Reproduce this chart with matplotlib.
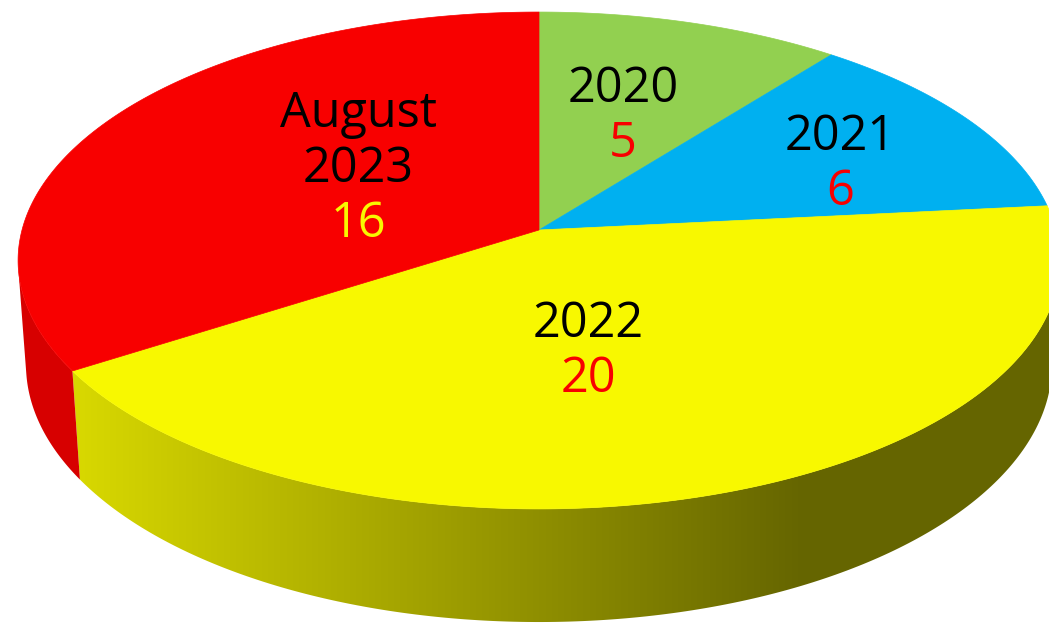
import numpy as np
import matplotlib
matplotlib.use('Agg')
import matplotlib.pyplot as plt
from matplotlib.patches import Polygon
from matplotlib.colors import to_rgb

labels = ['2020', '2021', '2022', 'August\n2023']
values = [5, 6, 20, 16]
face_colors = ['#92d050', '#00b0f0', '#f8f800', '#f80000']
value_colors = ['#f80000', '#f80000', '#f80000', '#f8f800']
# where each label block sits (x centre, baseline of the value line), pixels
label_xy = [(623, 157), (840, 205), (588, 392), (358, 237)]

W, H = 1049, 623
CX, CY = 539, 230          # apex of the pie on screen
FOCAL = 3712.0
DIST = 7.18
ELEV = np.radians(28.25)
DEPTH = 0.231              # thickness of the disc (radius = 1)


def project(theta, z=0.0, r=1.0):
    u = r * np.sin(theta)
    v = r * np.cos(theta)
    se, ce = np.sin(ELEV), np.cos(ELEV)
    den = DIST + v * ce - z * se
    return CX + FOCAL * u / den, CY - FOCAL * (v * se + z * ce) / den


def shade(x):
    return np.clip(0.87 - (x - 80) / 720 * 0.46, 0.41, 0.87)


fig = plt.figure(figsize=(W / 100, H / 100), dpi=100)
ax = fig.add_axes([0, 0, 1, 1])

total = sum(values)
bounds = 2 * np.pi * np.concatenate([[0], np.cumsum(values)]) / total

# front wall is visible between the two silhouette lines
k = 1.0 / (DIST * np.cos(ELEV))
vis0, vis1 = np.arccos(-k), 2 * np.pi - np.arccos(-k)

xs_img = np.arange(W) + 0.5
for i in range(len(values)):
    t0, t1 = max(bounds[i], vis0), min(bounds[i + 1], vis1)
    if t1 <= t0:
        continue
    t = np.linspace(t0, t1, 200)
    tx, ty = project(t)
    bx, by = project(t[::-1], z=-DEPTH)
    poly = Polygon(np.column_stack([np.r_[tx, bx], np.r_[ty, by]]),
                   closed=True, transform=ax.transData)
    base = np.array(to_rgb(face_colors[i]))
    img = base[None, None, :] * shade(xs_img)[None, :, None]
    im = ax.imshow(img, extent=(0, W, H, 0), aspect='auto',
                   interpolation='bilinear', zorder=1)
    im.set_clip_path(poly)

for i in range(len(values)):
    t = np.linspace(bounds[i], bounds[i + 1], 300)
    tx, ty = project(t)
    pts = np.column_stack([np.r_[CX, tx], np.r_[CY, ty]])
    ax.add_patch(Polygon(pts, closed=True, facecolor=face_colors[i],
                         edgecolor=face_colors[i], linewidth=0.5, zorder=2))

font = ['Open Sans', 'DejaVu Sans']
step = 55
for lab, val, col, (x, yb) in zip(labels, values, value_colors, label_xy):
    ax.text(x, yb, str(val), color=col, fontsize=35, family=font,
            ha='center', va='baseline', zorder=3)
    lines = lab.split('\n')
    for j, line in enumerate(reversed(lines)):
        ax.text(x, yb - step * (j + 1), line, color='black', fontsize=35,
                family=font, ha='center', va='baseline', zorder=3)

ax.set_xlim(0, W)
ax.set_ylim(H, 0)
ax.axis('off')
fig.savefig('out.png', dpi=100, facecolor='white')
